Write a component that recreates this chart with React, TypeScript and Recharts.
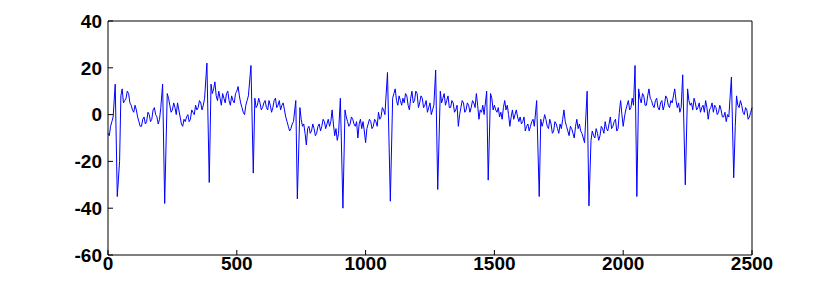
import { LineChart, Line, XAxis, YAxis } from "recharts";

// signal: values at 0, 10, 20 ... and at 5, 15, 25 ...
const sampleStep = 10;
const baseline = [
  -8, -5, -1, 3, 9, 8, 5, 7, 9, 4,
  1, 2, -3, -5, -1, -3, 0, -2, 3, -1,
  -2, 0, -2, 9, 4, 2, 3, 5, -1, -5,
  -3, 0, -2, 1, 4, 3, 5, 4, 6, 8,
  13, 11, 8, 10, 4, 7, 9, 6, 8, 5,
  10, 8, 3, 0, 6, 5, 5, 7, 4, 5,
  3, 6, 2, 4, 3, 7, 4, 2, 5, -1,
  -5, -6, -3, 0, -1, -2, -4, -13, -5, -7,
  -6, -8, -4, -5, -3, -4, -5, 2, -9, -11,
  -4, -3, 2, -3, -4, -2, -5, -10, -2, -3,
  -12, -4, -3, -5, -3, 1, -1, 2, 5, 8,
  12, 9, 6, 8, 4, 5, 8, 2, 10, 6,
  9, 5, 7, 4, 1, 5, 2, 5, 5, 10,
  7, 4, 8, 3, 5, 2, -5, 3, 5, 2,
  4, 3, 5, 9, -2, 1, 0, 3, 5, 7,
  4, 1, -1, -2, 6, 4, -5, 2, 0, -1,
  -1, -3, -7, -4, -5, -2, -3, -3, -2, -3,
  -2, -6, -4, -7, -4, -8, -6, 2, -5, -9,
  -6, -10, -2, -4, -8, -12, -10, -8, -7, -10,
  -8, -9, -6, -3, -7, -1, -5, -2, -6, 6,
  -5, 2, 6, 3, 4, 8, 11, 5, 8, 4,
  11, 6, 3, 7, 2, 6, 4, 7, 3, 5,
  11, 3, 1, 3, 6, 11, 4, 2, 5, 3,
  1, 4, 6, -2, 3, 1, 3, 1, 2, -1,
  -3, -1, 2, 5, 8, 3, 4, 0, 2, -1, 3,
];
const midpoints = [
  -9, -3, 1, 6, -20, 11, 6, 10, 5, 2,
  4, -1, -5, -2, -4, 1, -3, 2, 0, -4,
  3, -10, 6, 7, 1, 5, 0, 2, -4, -2,
  -1, -3, 2, 0, 2, 6, 2, 7, 10, 0,
  9, 14, 6, 7, 9, 5, 10, 4, 6, 9,
  12, 5, 1, 4, 8, 0, 9, 3, 7, 2,
  5, 3, 6, 1, 6, 3, 6, 4, 2, -3,
  -7, -4, -6, 0, 3, -5, -8, -6, -8, -4,
  -9, -5, -7, -2, -6, -2, -3, -4, -6, -8,
  0, -5, -1, -5, -1, -4, -3, -4, -6, -7,
  -6, -2, -6, -2, -5, -2, 3, 0, 6, 10,
  7, 11, 4, 6, 7, 9, 4, 7, 5, 10,
  3, 8, 3, 6, 3, 0, 4, 8, 12, 5,
  9, 6, 3, 6, 1, 4, 0, 6, 1, 5,
  1, 6, 3, 4, 2, 4, 3, 8, 9, 2,
  2, 3, 1, 3, 2, 0, -1, -2, 2, -3,
  -4, -1, -5, -7, -3, -5, 0, -6, -5, 0,
  -5, -2, -8, -3, -6, -4, -2, -3, -7, -5,
  -8, -5, -6, -7, -10, -9, -6, -11, -9, -6,
  -11, -5, -8, -6, -4, -6, -3, -7, 1, 0,
  -1, 4, 2, 7, 15, 2, 7, 9, 4, 8,
  7, 4, 6, 3, 5, 2, 8, 4, 6, 8,
  6, 5, 3, 8, 2, 6, 5, 7, 2, 5,
  3, 1, 3, 2, 5, 4, 0, 4, -1, 1,
  0, -4, 10, -5, 4, 6, 1, 3, -2, 1,
];

// beats: R peak and S trough positions / values
const rPeakAt = [28, 212, 384, 555, 729, 902, 1085, 1272, 1470, 1664, 1860, 2046, 2231, 2420];
const rPeakVal = [13, 13, 22, 21, 6, 7, 18, 19, 10, 6, 10, 21, 17, 16];
const sWaveAt = [36, 220, 393, 564, 735, 912, 1096, 1280, 1476, 1674, 1867, 2053, 2241, 2429];
const sWaveVal = [-35, -38, -29, -25, -36, -40, -37, -32, -28, -35, -39, -35, -30, -27];

const xTicks = [0, 500, 1000, 1500, 2000, 2500];
const yTicks = [-60, -40, -20, 0, 20, 40];

const samples = [
  ...baseline.map((y, i) => ({ x: i * sampleStep, y })),
  ...midpoints.map((y, i) => ({ x: i * sampleStep + sampleStep / 2, y })),
];
const data = [
  ...samples.filter((p) => !rPeakAt.some((r, i) => p.x >= r - 5 && p.x <= sWaveAt[i] + 5)),
  ...rPeakAt.map((x, i) => ({ x, y: rPeakVal[i] })),
  ...sWaveAt.map((x, i) => ({ x, y: sWaveVal[i] })),
].sort((a, b) => a.x - b.x);

const tickFont = {
  fill: "#000",
  fontSize: 19,
  fontWeight: "bold",
  fontFamily: "'Liberation Sans', Arial, sans-serif",
};
const black = { stroke: "#000" };

export default function App() {
  return (
    <LineChart width={815} height={270} data={data} margin={{ top: 12, right: 70, bottom: 0, left: 40 }}>
      <XAxis
        dataKey="x"
        type="number"
        domain={[0, 2500]}
        ticks={xTicks}
        interval={0}
        height={23}
        tickSize={-5}
        tickMargin={7}
        tick={tickFont}
        axisLine={black}
        tickLine={black}
      />
      <XAxis
        xAxisId="top"
        orientation="top"
        dataKey="x"
        type="number"
        domain={[0, 2500]}
        ticks={xTicks}
        interval={0}
        height={1}
        tickSize={-5}
        tick={false}
        axisLine={black}
        tickLine={black}
      />
      <YAxis
        type="number"
        domain={[-60, 40]}
        ticks={yTicks}
        interval={0}
        width={60}
        tickSize={-5}
        tickMargin={11}
        tick={tickFont}
        axisLine={black}
        tickLine={black}
      />
      <YAxis
        yAxisId="right"
        orientation="right"
        type="number"
        domain={[-60, 40]}
        ticks={yTicks}
        interval={0}
        width={1}
        tickSize={-5}
        tick={false}
        axisLine={black}
        tickLine={black}
      />
      <Line
        dataKey="y"
        type="linear"
        stroke="#0000ff"
        strokeWidth={1}
        dot={false}
        isAnimationActive={false}
      />
    </LineChart>
  );
}
